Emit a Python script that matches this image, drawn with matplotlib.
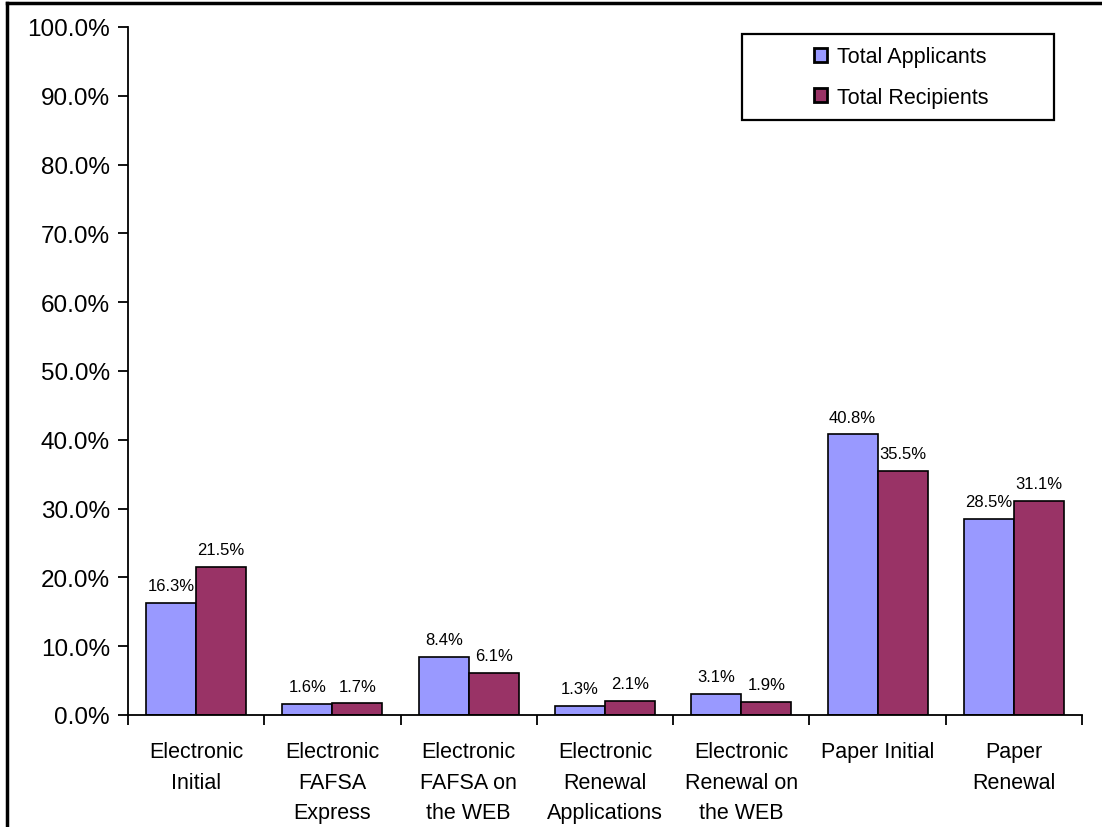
import numpy as np
import matplotlib.pyplot as plt
from matplotlib.lines import Line2D
from matplotlib.patches import Rectangle

plt.rcParams['font.family'] = ['Liberation Sans', 'DejaVu Sans']

# Application types
categories = ['Electronic\nInitial', 'Electronic\nFAFSA\nExpress', 'Electronic\nFAFSA on\nthe WEB',
              'Electronic\nRenewal\nApplications', 'Electronic\nRenewal on\nthe WEB',
              'Paper Initial', 'Paper\nRenewal']
applicants = [16.3, 1.6, 8.4, 1.3, 3.1, 40.8, 28.5]
recipients = [21.5, 1.7, 6.1, 2.1, 1.9, 35.5, 31.1]
yticks = [0, 10, 20, 30, 40, 50, 60, 70, 80, 90, 100]

W, H = 1102, 828
fig = plt.figure(figsize=(W / 100, H / 100), dpi=100)
ax = fig.add_axes([128 / W, 1 - 716 / H, (1082 - 128) / W, (716 - 28) / H])

x = np.arange(len(categories))
w = 0.367
b1 = ax.bar(x - w / 2, applicants, w, color='#9999FF', edgecolor='black', linewidth=1.2,
            label='Total Applicants')
b2 = ax.bar(x + w / 2, recipients, w, color='#993366', edgecolor='black', linewidth=1.2,
            label='Total Recipients')

for bars, vals in [(b1, applicants), (b2, recipients)]:
    for rect, v in zip(bars, vals):
        ax.annotate('%.1f%%' % v, (rect.get_x() + rect.get_width() / 2, v),
                    xytext=(0, 7), textcoords='offset points', ha='center', va='bottom',
                    fontsize=12)

ax.set_xlim(-0.5, len(categories) - 0.5)
ax.set_ylim(0, 100)
ax.set_yticks(yticks)
ax.set_yticklabels(['%.1f%%' % t for t in yticks], fontsize=17.5)
ax.tick_params(axis='y', direction='out', length=7, width=1.3, pad=6)

# boundary ticks, labels at centres
ax.set_xticks(np.arange(len(categories) + 1) - 0.5)
ax.set_xticklabels([])
ax.tick_params(axis='x', which='major', direction='out', length=7, width=1.3)
ax.set_xticks(x, minor=True)
ax.set_xticklabels(categories, minor=True, fontsize=15.5, linespacing=1.58, va='top')
ax.tick_params(axis='x', which='minor', length=0, pad=19)

for s in ['top', 'right']:
    ax.spines[s].set_visible(False)
for s in ['left', 'bottom']:
    ax.spines[s].set_linewidth(1.3)

# legend box drawn separately, entries placed inside
fig.add_artist(Rectangle((742 / W, 1 - 121 / H), (1054 - 742) / W, (121 - 35) / H,
                         transform=fig.transFigure, facecolor='white', edgecolor='black',
                         linewidth=1.6))
leg = fig.legend(handles=[b1, b2], loc='center left', bbox_to_anchor=(814 / W, 1 - 78 / H),
                 fontsize=15.5, frameon=False, handlelength=0.6, handleheight=0.6,
                 handletextpad=0.45, labelspacing=0.9, borderpad=0, borderaxespad=0)
for h in leg.legend_handles:
    h.set_linewidth(2)

# outer frame (left and top edges visible)
fig.add_artist(Line2D([7 / W, 7 / W], [0, 1 - 4 / H], transform=fig.transFigure,
                      color='black', linewidth=2.5))
fig.add_artist(Line2D([7 / W, 1], [1 - 4 / H, 1 - 4 / H], transform=fig.transFigure,
                      color='black', linewidth=2.5))

fig.savefig('out.png', dpi=100)
